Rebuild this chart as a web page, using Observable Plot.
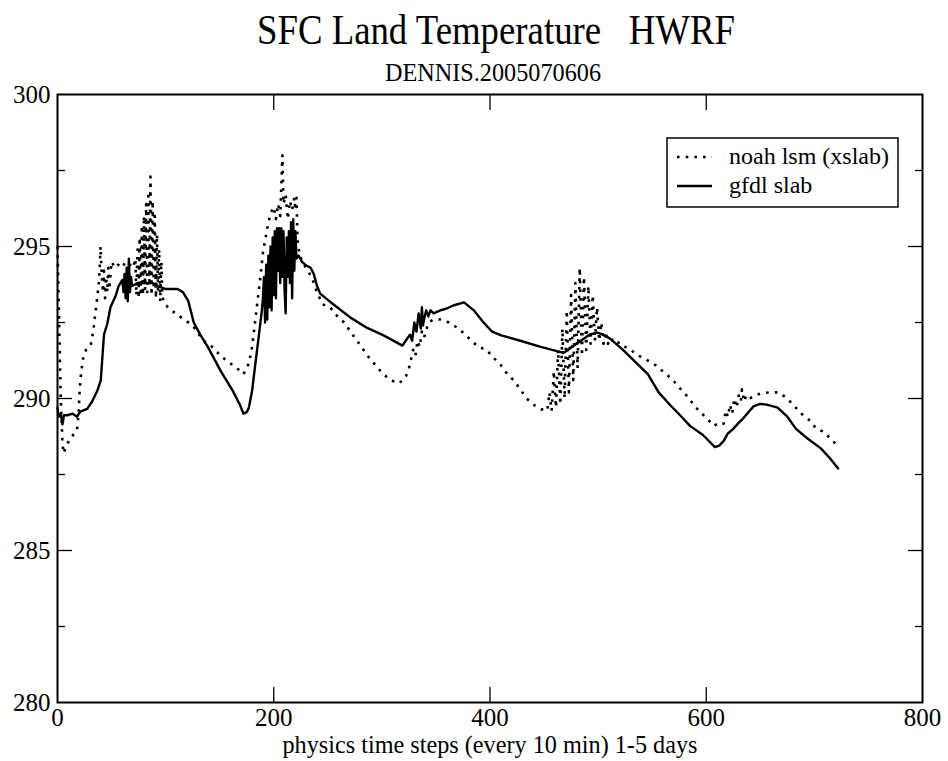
<!DOCTYPE html>
<html><head><meta charset="utf-8">
<script src="https://cdn.jsdelivr.net/npm/d3@7"></script>
<script src="https://cdn.jsdelivr.net/npm/@observablehq/plot@0.6"></script>
<style>
body{margin:0;background:#fff}
#chart svg text{white-space:pre;font-family:'Liberation Serif','Times New Roman',serif !important}
</style>
</head><body><div id="chart"></div>
<script>
const titleText = "SFC Land Temperature   HWRF";
const subtitleText = "DENNIS.2005070606";
const xLabel = "physics time steps (every 10 min) 1-5 days";
const seriesNames = ["noah lsm (xslab)", "gfdl slab"];

const noahT = [0,1.5,3,4.5,5.5,9,12,18,19.5,20.5,22,24,27,31,33,35,37,38.5,39.8,41,42,43,44,45,46,47,48,50,53,56,60,63,67,70,72,73,74,75,76,77,78,79,80,81,82,83,84,85,86,87,88,89,90,91,92,93,94,95,96,97,98,102,109,117,125,135,143,151,158,166,172,177,180,183,185,188,190,194,197,200,202,204,206,207,208,209,211,213,215,217,219,220,221,222,224,228,235,240,245,252,259,265,271,277,283,288,294,300,308,316,322,325,327,329,331,333,335,337,339,343,348,354,362,371,377,383,389,397,403,410,416,422,428,434,440,447,453,455,457,459,461,463,465,467,469,471,473,475,477,479,481,483,485,487,489,491,493,495,497,499,501,503,505,507,509,512,515,520,525,530,538,546,553,561,568,574,581,587,593,600,607,612,616,618,620,622,624,626,628,630,632,633,635,637,640,645,650,658,667,675,681,688,695,702,709,717,723];
const noahV = [295.0,292.5,290.0,288.6,288.2,288.5,288.7,288.95,289.5,290.3,290.9,291.4,291.65,291.8,292.2,292.8,293.4,293.9,295.0,294.0,293.5,294.2,293.3,294.0,293.5,294.3,293.6,294.5,294.3,294.4,294.3,294.5,294.4,294.3,294.6,293.4,294.9,293.3,295.3,293.5,295.7,293.4,296.0,293.6,296.4,293.5,296.8,293.7,297.3,293.4,296.5,293.6,296.0,293.3,295.4,293.5,294.9,293.2,294.5,293.4,293.2,293.0,292.8,292.6,292.4,291.9,291.7,291.4,291.2,291.0,290.8,291.15,291.7,292.6,293.2,294.1,294.8,295.6,296.1,296.3,295.9,296.4,296.0,297.0,298.0,296.4,296.7,295.9,296.5,296.2,296.6,296.2,296.6,295.2,294.7,294.4,294.0,293.5,293.1,293.0,292.7,292.5,292.2,291.9,291.6,291.35,291.1,290.85,290.6,290.5,290.7,291.0,291.3,291.6,291.4,291.9,291.7,292.2,292.0,292.5,292.6,292.6,292.5,292.3,292.1,291.9,291.7,291.6,291.35,291.1,290.8,290.6,290.3,290.0,289.8,289.65,289.6,290.2,289.6,290.9,289.7,291.6,289.8,292.3,290.0,292.9,290.2,293.4,290.6,293.8,291.0,294.3,291.4,294.0,291.6,293.7,291.8,293.4,291.9,293.0,291.9,292.5,291.8,292.2,291.8,292.0,291.8,291.85,291.7,291.6,291.4,291.25,291.1,290.86,290.65,290.4,290.13,289.86,289.6,289.37,289.1,289.2,289.17,289.6,289.4,289.8,289.5,290.0,289.7,290.1,289.9,290.3,289.9,290.1,290.0,290.1,290.16,290.2,290.2,290.0,289.77,289.5,289.3,289.0,288.9,288.6,288.4];

const gfdlT = [0,1,3,4.6,6,9,14,18,21,27.5,32,37,40,41.3,43,46,49,54,56.5,60,61,62,63,64,65,66,67,68,69,74,80,88,93,100,111,116,121,126,132,139,151,162,169,172,175,177,180,183,186,189,190,191,192,193,194,195,196,197,198,199,200,201,202,203,204,205,206,207,208,209,210,211,212,213,214,215,216,217,218,219,220,221,223,226,229,234,237,240,243,248,255,271,286,302,319,322,326,328,330,332,334,336,337,338,339,341,343,345,348,354,360,366,376,385,394,402,411,428,447,468,476,484,492,499,505,511,523,536,546,556,567,576,585,597,608,612,616,620,625,630,634,639,644,650,656,666,675,683,693,706,714,722];
const gfdlV = [289.7,289.4,289.5,289.15,289.45,289.45,289.5,289.4,289.57,289.66,289.9,290.27,290.6,291.25,292.1,292.45,293.0,293.4,293.7,293.9,293.5,294.1,293.3,294.3,293.2,294.6,293.5,294.0,293.7,293.8,293.8,293.8,293.7,293.6,293.6,293.5,293.2,292.5,292.1,291.7,290.9,290.26,289.77,289.5,289.55,289.7,290.26,291.15,292.0,292.9,293.3,294.0,292.5,294.4,292.6,294.7,293.0,295.0,292.9,295.3,293.4,295.5,293.3,295.6,294.2,295.6,293.8,295.6,294.0,295.5,293.6,292.8,295.3,294.0,295.5,293.8,295.8,293.3,295.9,294.2,295.5,294.6,294.7,294.5,294.4,294.3,294.1,293.7,293.45,293.3,293.1,292.66,292.33,292.07,291.74,291.9,292.1,291.9,292.5,292.2,292.8,292.3,293.0,292.4,292.6,292.9,292.7,292.9,292.8,292.9,292.96,293.06,293.16,292.9,292.5,292.2,292.07,291.9,291.7,291.5,291.7,291.9,292.1,292.17,292.1,291.97,291.6,291.15,290.8,290.2,289.77,289.44,289.1,288.8,288.4,288.45,288.6,288.85,289.0,289.2,289.34,289.55,289.75,289.82,289.8,289.7,289.4,289.0,288.7,288.36,288.05,287.7];

const xTicks = [0, 200, 400, 600, 800];
const xInnerTicks = [200, 400, 600];
const yTicks = [280, 285, 290, 295, 300];
const yInnerTicks = [285, 290, 295];
const yMinorTicks = [282.5, 287.5, 292.5, 297.5];

const noah = noahT.map((t, i) => ({t, v: noahV[i]}));
const gfdl = gfdlT.map((t, i) => ({t, v: gfdlV[i]}));

const font = "'Liberation Serif', 'Times New Roman', serif";
const blank = () => "";

const chart = Plot.plot({
  width: 948, height: 761,
  marginLeft: 57, marginRight: 26, marginTop: 94, marginBottom: 59,
  x: {domain: [0, 800]},
  y: {domain: [280, 300]},
  style: {fontFamily: font, fontSize: "24px", background: "white", color: "black", overflow: "visible"},
  marks: [
    Plot.line(noah, {x: "t", y: "v", stroke: "black", strokeWidth: 2.6, strokeDasharray: "2.6 6.1", strokeLinecap: "butt"}),
    Plot.line(gfdl, {x: "t", y: "v", stroke: "black", strokeWidth: 2.4, strokeLinejoin: "round"}),
    Plot.frame({stroke: "black", strokeWidth: 2}),
    Plot.axisX(xInnerTicks, {anchor: "bottom", tickSize: -15, tickFormat: blank, label: null, strokeWidth: 1.3}),
    Plot.axisX(xInnerTicks, {anchor: "top", tickSize: -15, tickFormat: blank, label: null, strokeWidth: 1.3}),
    Plot.axisY(yInnerTicks, {anchor: "left", tickSize: -15, tickFormat: blank, label: null, strokeWidth: 1.3}),
    Plot.axisY(yInnerTicks, {anchor: "right", tickSize: -15, tickFormat: blank, label: null, strokeWidth: 1.3}),
    Plot.axisY(yMinorTicks, {anchor: "left", tickSize: -8, tickFormat: blank, label: null, strokeWidth: 1.3}),
    Plot.axisY(yMinorTicks, {anchor: "right", tickSize: -8, tickFormat: blank, label: null, strokeWidth: 1.3}),
    Plot.axisX(xTicks, {anchor: "bottom", tickSize: 0, tickPadding: 6, label: null, fontSize: 25, fontFamily: font}),
    Plot.axisY(yTicks, {anchor: "left", tickSize: 0, tickPadding: 7, label: null, fontSize: 25, fontFamily: font}),
    Plot.text([xLabel], {frameAnchor: "bottom", dy: 50, lineAnchor: "bottom", fontSize: 25, fontFamily: font}),
    Plot.text([titleText], {frameAnchor: "top", dy: -51, dx: 6, lineAnchor: "bottom", fontSize: 42, fontFamily: font}),
    Plot.text([subtitleText], {frameAnchor: "top", dy: -14, dx: 3, lineAnchor: "bottom", fontSize: 25, fontFamily: font})
  ]
});

document.getElementById("chart").appendChild(chart);

// condense text widths to match the reference's narrow serif lettering
const svg = d3.select(chart);
const widths = new Map([[titleText, 478], [subtitleText, 216], [xLabel, 415]]);
svg.selectAll("text").each(function () {
  const s = this.textContent;
  if (widths.has(s)) {
    d3.select(this).attr("textLength", widths.get(s)).attr("lengthAdjust", "spacingAndGlyphs");
  }
});

// legend box
const lg = svg.append("g").attr("font-family", font).attr("font-size", 24).attr("text-anchor", "start");
lg.append("rect").attr("x", 667).attr("y", 138).attr("width", 231).attr("height", 69)
  .attr("fill", "white").attr("stroke", "black").attr("stroke-width", 1.5);
lg.append("line").attr("x1", 677).attr("x2", 712).attr("y1", 157).attr("y2", 157)
  .attr("stroke", "black").attr("stroke-width", 2.6).attr("stroke-dasharray", "2.6 6.1");
lg.append("line").attr("x1", 677).attr("x2", 712).attr("y1", 186).attr("y2", 186)
  .attr("stroke", "black").attr("stroke-width", 2.4);
lg.append("text").attr("x", 729).attr("y", 164).attr("text-anchor", "start").text(seriesNames[0]);
lg.append("text").attr("x", 729).attr("y", 193).attr("text-anchor", "start").text(seriesNames[1]);
</script>
</body></html>
